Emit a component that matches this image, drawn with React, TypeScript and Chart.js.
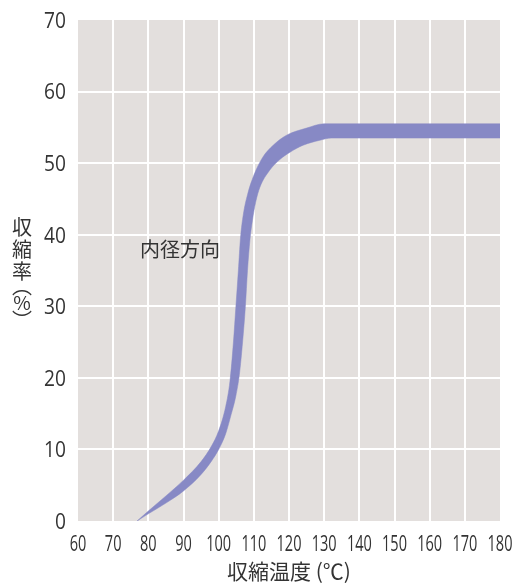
import { useEffect, useRef } from "react";
import { Chart, registerables } from "chart.js";

Chart.register(...registerables);

// Upper / left edge of the band (temperature °C, shrinkage %)
const upperTemp = [76.8, 80, 85, 90, 95, 98, 100, 102, 103.2, 104.2, 104.9, 105.6, 106.2, 107.0, 108.2, 110.0, 112.5, 115.5, 119.3, 125, 130, 180];
const upperRate = [0, 1.4, 3.5, 5.7, 8.3, 10.5, 12.6, 16.0, 19.5, 25, 30, 35, 39.5, 42.8, 45.6, 48.3, 50.8, 52.5, 53.9, 54.9, 55.5, 55.5];

// Lower / right edge of the band
const lowerTemp = [76.8, 80, 85, 90, 95, 98, 100, 102, 103.5, 104.9, 105.9, 106.8, 107.6, 108.2, 108.9, 109.6, 110.5, 111.7, 114.5, 117.4, 120.2, 124, 128.8, 132, 180];
const lowerRate = [0, 1.0, 2.5, 4.2, 6.5, 8.4, 10, 12.2, 14.8, 17.5, 20.5, 25, 30, 35, 39.3, 42, 44.5, 46.6, 49.0, 50.5, 51.5, 52.5, 53.2, 53.5, 53.5];

const xTickValues = [60, 70, 80, 90, 100, 110, 120, 130, 140, 150, 160, 170, 180];
const xTickLabels = ["60", "70", "80", "90", "100", "110", "120", "130", "140", "150", "160", "170", "180"];
const yTickValues = [0, 10, 20, 30, 40, 50, 60, 70];
const yTickLabels = ["0", "10", "20", "30", "40", "50", "60", "70"];

const xTitle = "収縮温度 (℃)";
const yTitleChars = ["収", "縮", "率", "︵", "%", "︶"];
const bandLabel = "内径方向";
const bandLabelTemp = 89;
const bandLabelRate = 38;

const BAND = "rgb(135,137,197)";
const PLOT_BG = "#e3dfdd";
const TEXT = "#333333";
const NUM_FONT = "'Open Sans', 'Noto Sans', sans-serif";
const CJK_FONT = "'Noto Sans CJK JP', 'Noto Sans', sans-serif";

const decorPlugin = {
  id: "decor",
  beforeDraw(chart: any) {
    const { ctx, chartArea } = chart;
    ctx.save();
    ctx.fillStyle = PLOT_BG;
    ctx.fillRect(chartArea.left, chartArea.top, chartArea.right - chartArea.left, chartArea.bottom - chartArea.top);
    ctx.restore();
  },
  afterDraw(chart: any) {
    const { ctx, chartArea, scales } = chart;
    ctx.save();
    ctx.fillStyle = TEXT;

    // x tick labels (condensed)
    ctx.font = `22px ${NUM_FONT}`;
    ctx.textAlign = "center";
    ctx.textBaseline = "alphabetic";
    xTickValues.forEach((v, i) => {
      const px = scales.x.getPixelForValue(v);
      ctx.save();
      ctx.translate(px, 551);
      ctx.scale(0.66, 1);
      ctx.fillText(xTickLabels[i], 0, 0);
      ctx.restore();
    });

    // y tick labels
    ctx.textAlign = "right";
    yTickValues.forEach((v, i) => {
      const py = scales.y.getPixelForValue(v);
      ctx.save();
      ctx.translate(66, py + 7.9);
      ctx.scale(0.87, 1);
      ctx.fillText(yTickLabels[i], 0, 0);
      ctx.restore();
    });

    // band label
    ctx.font = `20px ${CJK_FONT}`;
    ctx.textAlign = "center";
    ctx.textBaseline = "middle";
    ctx.fillText(bandLabel, scales.x.getPixelForValue(bandLabelTemp), scales.y.getPixelForValue(bandLabelRate));

    // x title
    ctx.font = `21px ${CJK_FONT}`;
    ctx.fillText(xTitle, (chartArea.left + chartArea.right) / 2, 571);

    // y title (vertical)
    const ys = [227, 249, 271, 286, 303, 320];
    yTitleChars.forEach((c, i) => {
      ctx.font = c === "%" ? `19px ${CJK_FONT}` : `20px ${CJK_FONT}`;
      ctx.fillText(c, 22, ys[i]);
    });
    ctx.restore();
  },
};

export default function App() {
  const ref = useRef<HTMLCanvasElement | null>(null);

  useEffect(() => {
    if (!ref.current) return;
    const upper = upperTemp.map((t, i) => ({ x: t, y: upperRate[i] }));
    const lower = lowerTemp.map((t, i) => ({ x: t, y: lowerRate[i] }));
    const xMin = xTickValues[0];
    const xMax = xTickValues[xTickValues.length - 1];
    const yMin = yTickValues[0];
    const yMax = yTickValues[yTickValues.length - 1];
    const xLast = xTickValues.length - 1;
    const yLast = yTickValues.length - 1;
    const chart = new Chart(ref.current, {
      type: "line",
      data: {
        datasets: [
          {
            data: upper,
            borderColor: BAND,
            borderWidth: 0.5,
            pointRadius: 0,
            fill: false,
            cubicInterpolationMode: "monotone",
          },
          {
            data: lower,
            borderColor: BAND,
            borderWidth: 0.5,
            backgroundColor: BAND,
            pointRadius: 0,
            fill: "-1",
            cubicInterpolationMode: "monotone",
          },
        ],
      },
      options: {
        animation: false,
        responsive: false,
        devicePixelRatio: 1,
        layout: { padding: { top: 20, right: 17, left: 0, bottom: 0 } },
        plugins: {
          legend: { display: false },
          tooltip: { enabled: false },
        },
        scales: {
          x: {
            type: "linear",
            min: xMin,
            max: xMax,
            border: { display: false },
            grid: {
              drawTicks: false,
              lineWidth: 2,
              color: (c: any) => (c.index === 0 || c.index === xLast ? "rgba(0,0,0,0)" : "#ffffff"),
            },
            ticks: { stepSize: 10, display: false },
            afterFit: (s: any) => {
              s.height = 64;
            },
          },
          y: {
            type: "linear",
            min: yMin,
            max: yMax,
            border: { display: false },
            grid: {
              drawTicks: false,
              lineWidth: 2,
              color: (c: any) => (c.index === 0 || c.index === yLast ? "rgba(0,0,0,0)" : "#ffffff"),
            },
            ticks: { stepSize: 10, display: false },
            afterFit: (s: any) => {
              s.width = 78;
            },
          },
        },
      },
      plugins: [decorPlugin],
    });
    return () => chart.destroy();
  }, []);

  return (
    <div style={{ position: "fixed", left: 0, top: 0, width: 517, height: 585, background: "#fff" }}>
      <canvas ref={ref} width={517} height={585} style={{ width: 517, height: 585, display: "block" }} />
    </div>
  );
}
